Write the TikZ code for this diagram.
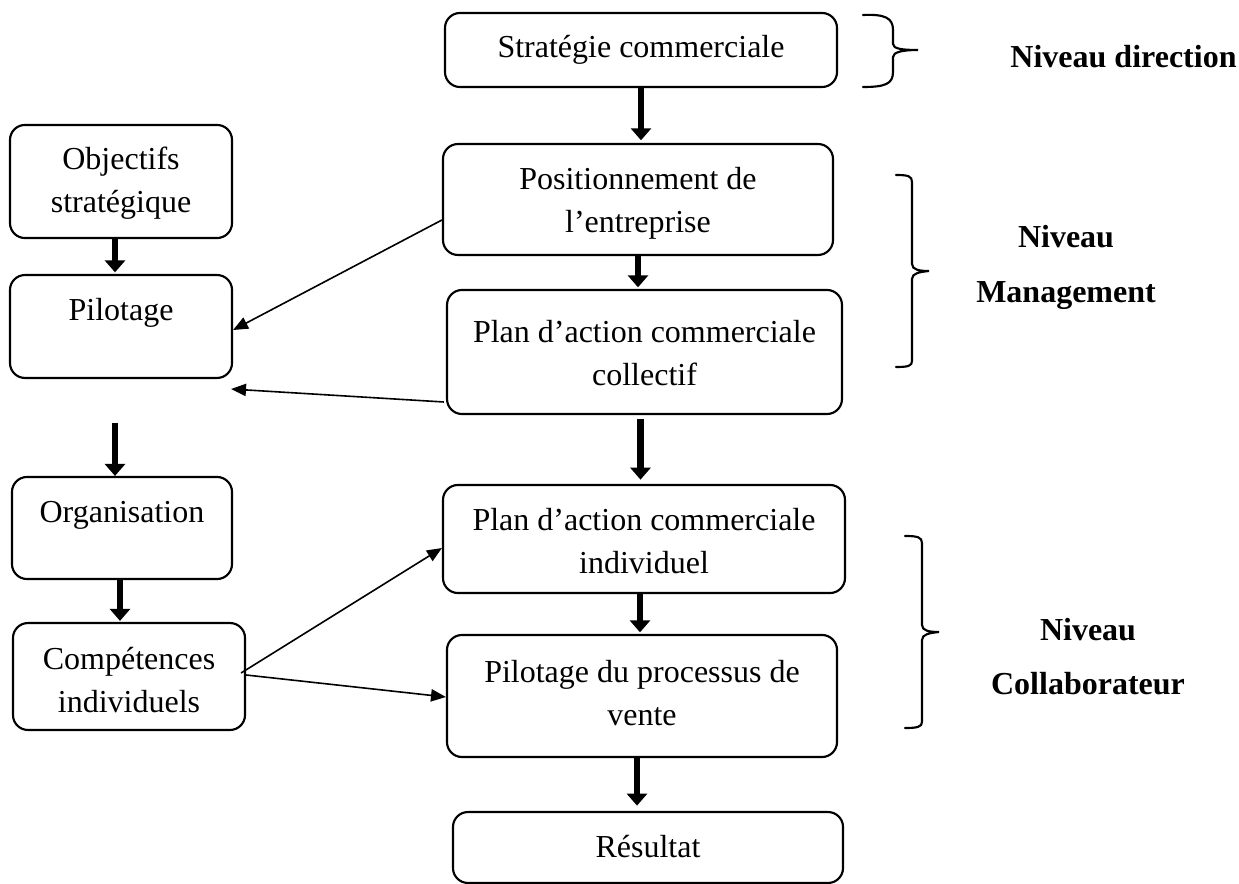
\documentclass[tikz,border=0pt]{standalone}
\usepackage{fontspec}
\setmainfont{Liberation Serif}
\usetikzlibrary{arrows.meta,calc}

\tikzset{
  box/.style={draw, line width=0.8pt, rounded corners=5.6pt, inner sep=0pt},
  txt/.style={align=center, inner sep=0pt, font=\fontsize{12pt}{16pt}\selectfont},
  lvl/.style={align=center, inner sep=0pt, font=\fontsize{12pt}{20.5pt}\selectfont\bfseries},
  bigarrow/.style={line width=2.6pt, -{Triangle[width=7.5pt,length=4.5pt]}},
  thinarrow/.style={line width=0.6pt, -{Triangle[width=4.6pt,length=5.6pt]}},
  bracepath/.style={line width=0.8pt, line cap=round}
}

\begin{document}
\begin{tikzpicture}[x=0.375pt, y=-0.375pt]
  \useasboundingbox (0,0) rectangle (1239,884);

  % central column
  \node[box, minimum width=147pt,    minimum height=27.75pt] (strat) at (641,50) {};
  \node[txt] (strat-t) at (641,50) {Stratégie commerciale};

  \node[box, minimum width=146.25pt, minimum height=41.6pt] (pos) at (638,199.5) {};
  \node[txt] (pos-t) at (638,203) {Positionnement de\\l’entreprise};

  \node[box, minimum width=148.1pt,  minimum height=46.5pt] (coll) at (644.5,352) {};
  \node[txt] (coll-t) at (644.5,353) {Plan d’action commerciale\\collectif};

  \node[box, minimum width=150.75pt, minimum height=40.5pt] (ind) at (644,539) {};
  \node[txt] (ind-t) at (644,541) {Plan d’action commerciale\\individuel};

  \node[box, minimum width=146.25pt, minimum height=45.75pt] (proc) at (642,696) {};
  \node[txt] (proc-t) at (642,693) {Pilotage du processus de\\vente};

  \node[box, minimum width=146.25pt, minimum height=26.6pt] (res) at (648,847.5) {};
  \node[txt] (res-t) at (648,847) {Résultat};

  % left column
  \node[box, minimum width=83.25pt, minimum height=42.4pt] (obj) at (121,181.5) {};
  \node[txt] (obj-t) at (121,183) {Objectifs\\stratégique};

  \node[box, minimum width=83.25pt, minimum height=38.6pt] (pil) at (121,326.5) {};
  \node[txt] (pil-t) at (121,313) {Pilotage};

  \node[box, minimum width=82.5pt, minimum height=38.25pt] (org) at (122,528) {};
  \node[txt] (org-t) at (122,515) {Organisation};

  \node[box, minimum width=87pt, minimum height=40.1pt] (comp) at (129,676.5) {};
  \node[txt] (comp-t) at (129,680) {Compétences\\individuels};

  % thick flow arrows
  \draw[bigarrow, shorten >=1pt] (strat.south) -- (strat.south |- pos.north);
  \draw[bigarrow, shorten >=0.6pt] (pos.south) -- (pos.south |- coll.north);
  \draw[bigarrow, shorten <=1.5pt, shorten >=1.6pt] ($(coll.south)+(-4,0)$) -- ($(coll.south |- ind.north)+(-4,0)$);
  \draw[bigarrow, shorten >=0.6pt] ($(ind.south)+(-4,0)$) -- ($(ind.south |- proc.north)+(-4,0)$);
  \draw[bigarrow, shorten >=2pt] ($(proc.south)+(-5,0)$) -- ($(proc.south |- res.north)+(-5,0)$);

  \draw[bigarrow, shorten >=0.6pt] ($(obj.south)+(-6,0)$) -- ($(obj.south |- pil.north)+(-6,0)$);
  \draw[bigarrow, shorten <=16.5pt] ($(pil.south)+(-6,0)$) -- ($(pil.south |- org.north)+(-6,0)$);
  \draw[bigarrow, shorten >=0.4pt] ($(org.south)+(-2,0)$) -- ($(org.south |- comp.north)+(-2,0)$);

  % thin cross arrows
  \draw[thinarrow] ($(pos.west)+(0,20.5)$) -- ($(pil.east)+(0,3.5)$);
  \draw[thinarrow] ($(coll.west)+(-2,50)$) -- ($(pil.south east)+(-2,10)$);
  \draw[thinarrow] ($(comp.east)+(-5,-3.5)$) -- ($(ind.west)+(0,9)$);
  \draw[thinarrow] ($(comp.east)+(0,-1.5)$) -- ($(proc.west)+(0,1)$);

  % braces
  \draw[bracepath] (863,15) .. controls (885,14) and (893,18) .. (893,30)
    -- (893,44) .. controls (893,49) and (903,50) .. (918,50)
    .. controls (903,50) and (893,52) .. (893,57)
    -- (893,72) .. controls (893,84) and (885,87) .. (863,87);

  \draw[bracepath] (896,175) .. controls (908,175) and (912,176) .. (912,182)
    -- (912,264) .. controls (912,270) and (920,271) .. (929,271)
    .. controls (920,272) and (912,273) .. (912,279)
    -- (912,361) .. controls (912,366) and (908,367) .. (896,367);

  \draw[bracepath] (905,536) .. controls (917,536) and (922,537) .. (922,543)
    -- (922,625) .. controls (922,631) and (930,632) .. (939,632)
    .. controls (930,633) and (922,634) .. (922,640)
    -- (922,722) .. controls (922,727) and (917,728) .. (905,728);

  % level labels
  \node[lvl] (lv-dir) at (1123.5,57) {Niveau direction};
  \node[lvl] (lv-man) at (1066,267.5) {Niveau\\Management};
  \node[lvl] (lv-col) at (1088,656.5) {Niveau\\Collaborateur};
\end{tikzpicture}
\end{document}
